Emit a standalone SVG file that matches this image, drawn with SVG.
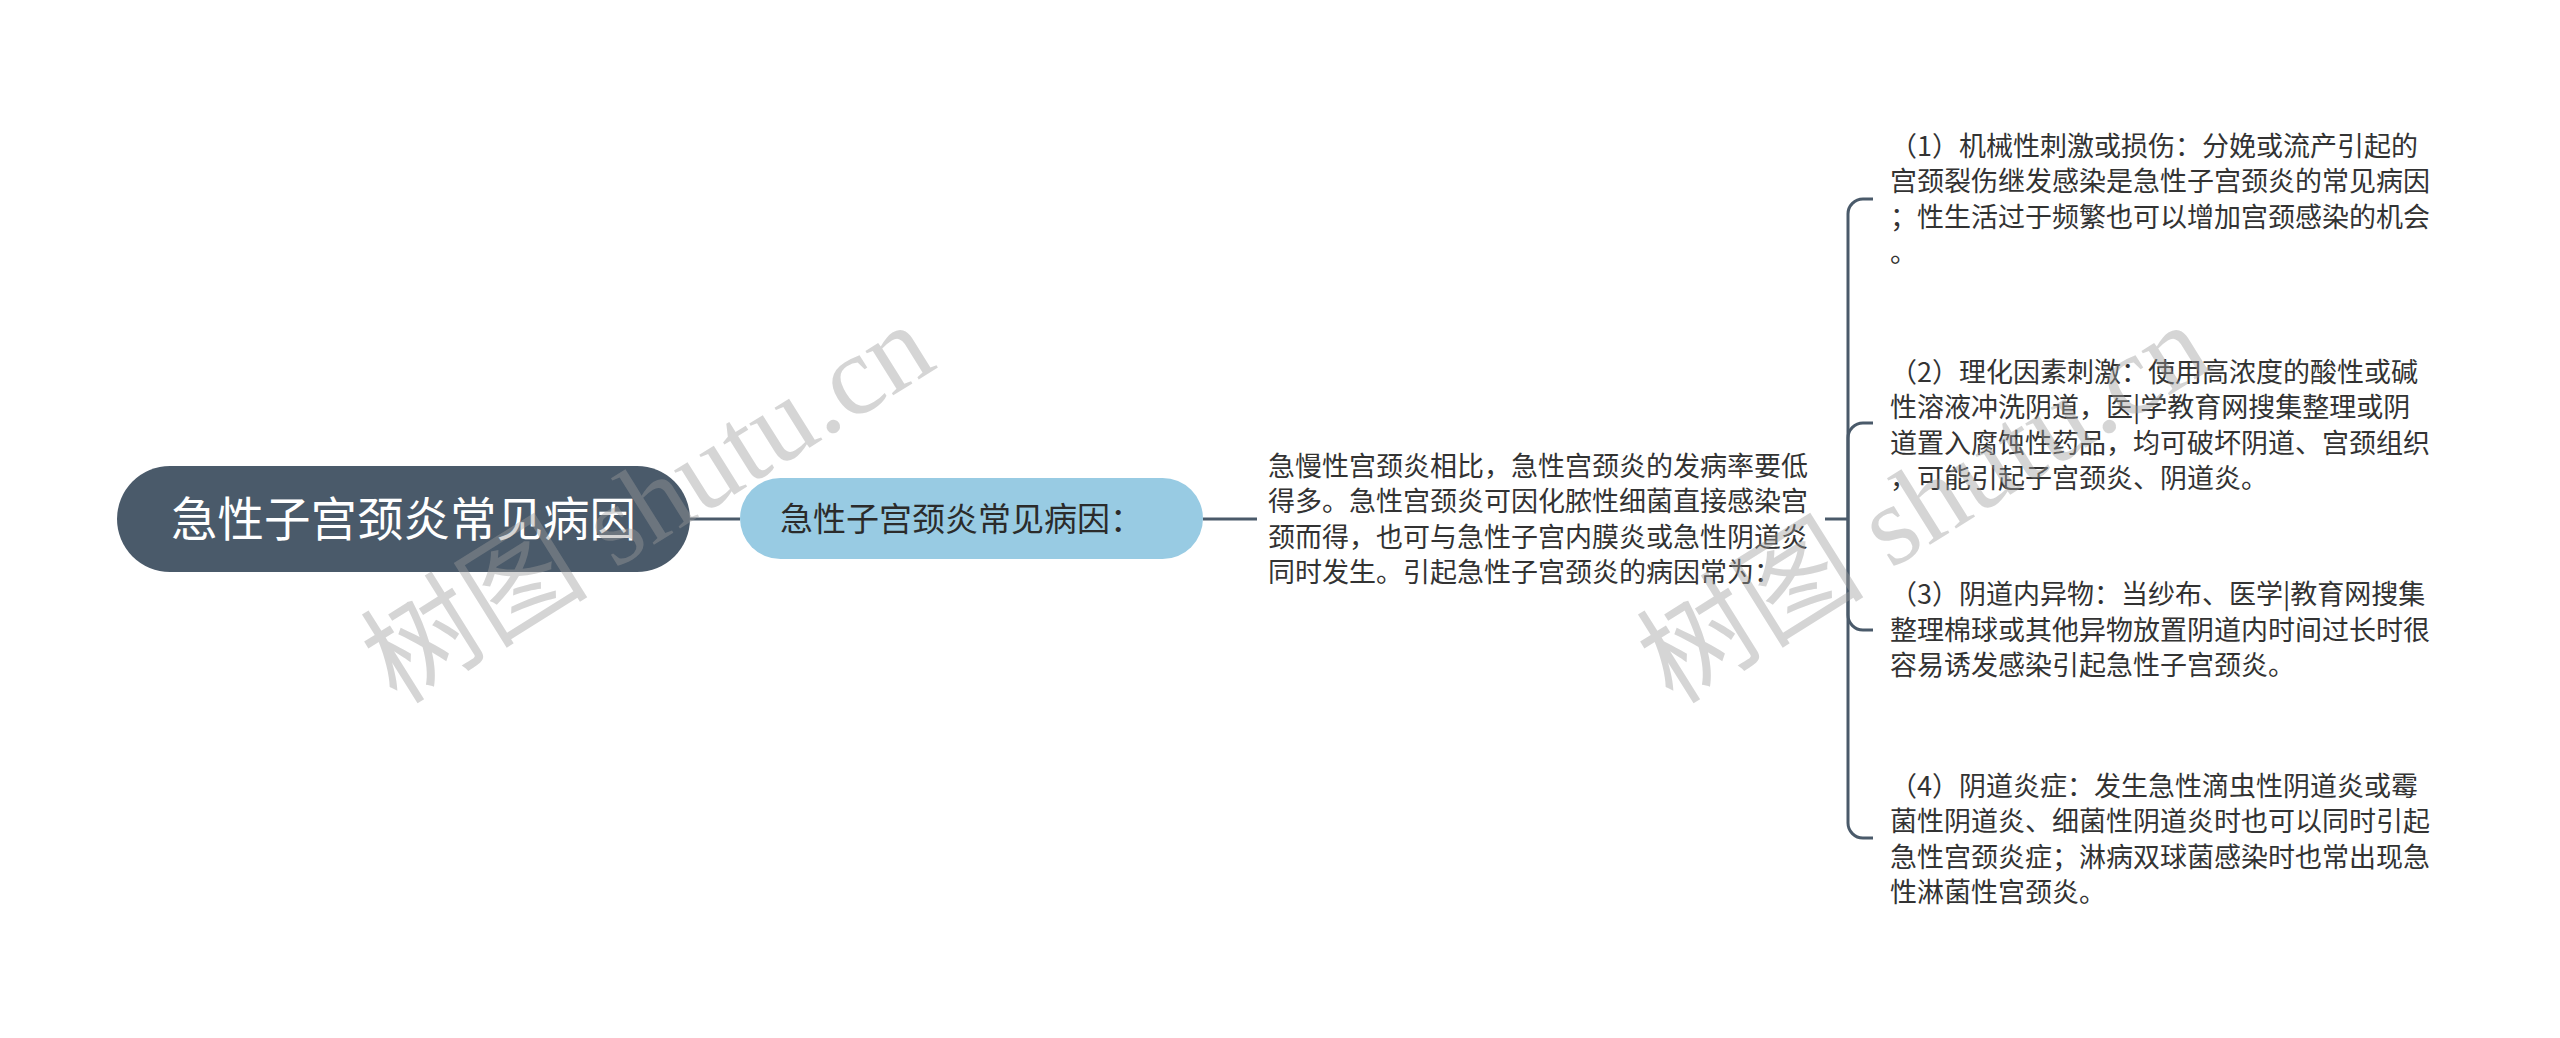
<svg xmlns="http://www.w3.org/2000/svg" width="2560" height="1038" viewBox="0 0 2560 1038">
<style>
.t{font-family:"Noto Sans CJK SC","Liberation Sans",sans-serif;}
.body{font-size:27px;fill:#333333;}
.root{font-size:46.5px;fill:#ffffff;}
.sub{font-size:33px;fill:#2b2b2b;}
.conn{fill:none;stroke:#4a5a6a;stroke-width:3;}
.wm{font-family:"Liberation Serif","Noto Sans CJK SC",serif;font-size:114px;fill:#9a9a9a;fill-opacity:0.42;}
</style>
<rect width="2560" height="1038" fill="#ffffff"/>
<g id="connectors">
<path class="conn" d="M690 519 H740"/>
<path class="conn" d="M1203 519 H1257"/>
<path class="conn" d="M1825 519 H1848"/>
<path class="conn" d="M1848 519 V214 A15 15 0 0 1 1863 199 H1873"/>
<path class="conn" d="M1848 519 V438 A15 15 0 0 1 1863 423 H1873"/>
<path class="conn" d="M1848 519 V615 A15 15 0 0 0 1863 630 H1873"/>
<path class="conn" d="M1848 519 V823 A15 15 0 0 0 1863 838 H1873"/>
</g>
<g id="root">
<rect x="117" y="466" width="573" height="106" rx="53" fill="#4a5a6a"/>
<text class="t root" x="403.5" y="536" text-anchor="middle">急性子宫颈炎常见病因</text>
</g>
<g id="sub">
<rect x="740" y="478" width="463" height="81" rx="40.5" fill="#98cbe3"/>
<text class="t sub" x="780" y="531">急性子宫颈炎常见病因：</text>
</g>
<g id="detail">
<text class="t body">
<tspan x="1268" y="475.5">急慢性宫颈炎相比，急性宫颈炎的发病率要低</tspan>
<tspan x="1268" y="511">得多。急性宫颈炎可因化脓性细菌直接感染宫</tspan>
<tspan x="1268" y="546.5">颈而得，也可与急性子宫内膜炎或急性阴道炎</tspan>
<tspan x="1268" y="582">同时发生。引起急性子宫颈炎的病因常为：</tspan>
</text>
</g>
<g id="item1">
<text class="t body">
<tspan x="1890" y="155.7">（1）机械性刺激或损伤：分娩或流产引起的</tspan>
<tspan x="1890" y="191.2">宫颈裂伤继发感染是急性子宫颈炎的常见病因</tspan>
<tspan x="1890" y="226.7">；性生活过于频繁也可以增加宫颈感染的机会</tspan>
<tspan x="1890" y="262.2">。</tspan>
</text>
</g>
<g id="item2">
<text class="t body">
<tspan x="1890" y="381.5">（2）理化因素刺激：使用高浓度的酸性或碱</tspan>
<tspan x="1890" y="417">性溶液冲洗阴道，医|学教育网搜集整理或阴</tspan>
<tspan x="1890" y="452.5">道置入腐蚀性药品，均可破坏阴道、宫颈组织</tspan>
<tspan x="1890" y="488">，可能引起子宫颈炎、阴道炎。</tspan>
</text>
</g>
<g id="item3">
<text class="t body">
<tspan x="1890" y="604.2">（3）阴道内异物：当纱布、医学|教育网搜集</tspan>
<tspan x="1890" y="639.7">整理棉球或其他异物放置阴道内时间过长时很</tspan>
<tspan x="1890" y="675.2">容易诱发感染引起急性子宫颈炎。</tspan>
</text>
</g>
<g id="item4">
<text class="t body">
<tspan x="1890" y="795.5">（4）阴道炎症：发生急性滴虫性阴道炎或霉</tspan>
<tspan x="1890" y="831">菌性阴道炎、细菌性阴道炎时也可以同时引起</tspan>
<tspan x="1890" y="866.5">急性宫颈炎症；淋病双球菌感染时也常出现急</tspan>
<tspan x="1890" y="902">性淋菌性宫颈炎。</tspan>
</text>
</g>
<g id="watermarks">
<text class="wm" x="647" y="542" text-anchor="middle" transform="rotate(-32 647 502)">树图 shutu.cn</text>
<text class="wm" x="1923" y="542" text-anchor="middle" transform="rotate(-32 1923 502)">树图 shutu.cn</text>
</g>
</svg>
